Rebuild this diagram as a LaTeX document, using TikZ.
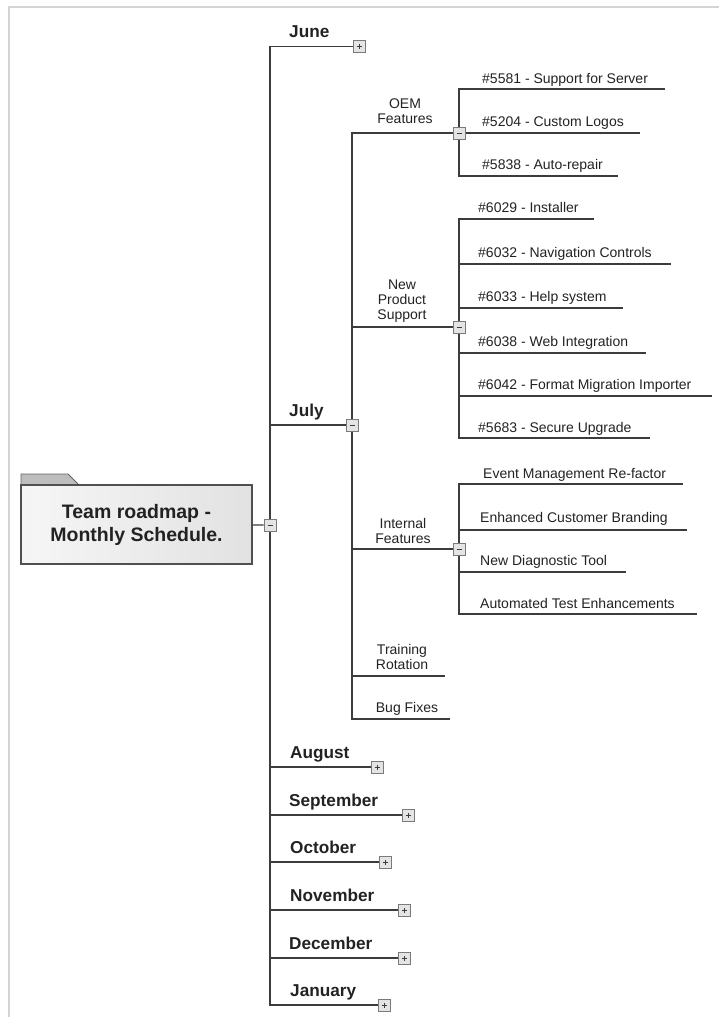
\documentclass[tikz,border=0pt]{standalone}
\usepackage{fontspec}
\setmainfont{Liberation Sans}
\definecolor{linec}{HTML}{3C3C3C}
\definecolor{txtc}{HTML}{222222}
\definecolor{btnfill}{HTML}{E4E4E4}
\definecolor{btnc}{HTML}{7A7A7A}
\definecolor{framec}{HTML}{D4D4D4}
\definecolor{tabc}{HTML}{BDBDBD}
\definecolor{boxl}{HTML}{F6F6F6}
\definecolor{boxr}{HTML}{E2E2E2}
\begin{document}
\begin{tikzpicture}[x=1pt,y=-1pt,
  conn/.style={draw=linec, line width=1.3pt},
  btn/.style={draw=btnc, fill=btnfill, minimum size=12pt, inner sep=0pt, line width=0.9pt},
  plusbtn/.style={btn, path picture={
      \draw[linec, line width=0.8pt] ([xshift=-2.5pt]path picture bounding box.center) -- ([xshift=2.5pt]path picture bounding box.center);
      \draw[linec, line width=0.8pt] ([yshift=-2.5pt]path picture bounding box.center) -- ([yshift=2.5pt]path picture bounding box.center);}},
  minusbtn/.style={btn, path picture={
      \draw[linec, line width=0.8pt] ([xshift=-2.5pt]path picture bounding box.center) -- ([xshift=2.5pt]path picture bounding box.center);}},
  itemtxt/.style={font=\fontsize{14}{15}\selectfont, text=txtc, anchor=base west, inner sep=0pt},
  subtxt/.style={font=\fontsize{14}{15}\selectfont, text=txtc, align=center, anchor=center, inner sep=0pt},
  monthtxt/.style={font=\bfseries\fontsize{17.2}{19}\selectfont, text=txtc, anchor=base west, inner sep=0pt},
  rootbox/.style={draw=linec!90, line width=1.3pt, left color=boxl, right color=boxr,
      minimum width=231pt, minimum height=79pt, align=center, inner sep=0pt,
      font=\bfseries\fontsize{19.5}{23}\selectfont, text=txtc}
]
\useasboundingbox (0,0) rectangle (719,1017);
% frame
\draw[framec, line width=1.2pt] (9,1017) -- (9,7) -- (719,7);

% root
\fill[tabc] (21,485) -- (21,474) -- (68,474) -- (79,485) -- cycle;
\draw[linec!80, line width=0.8pt] (21,485) -- (21,474) -- (68,474) -- (79,485);
\node[rootbox] (root) at (136.5,524.5) {Team roadmap -\\Monthly Schedule.};

% buttons (positions)
\node[minusbtn] (bRoot) at (270,525) {};
\node[plusbtn] (bJune) at (359.5,46.5) {};
\node[minusbtn] (bJuly) at (352,425) {};
\node[plusbtn] (bAug) at (377,767) {};
\node[plusbtn] (bSep) at (408,815) {};
\node[plusbtn] (bOct) at (385,862) {};
\node[plusbtn] (bNov) at (404,910) {};
\node[plusbtn] (bDec) at (404,958) {};
\node[plusbtn] (bJan) at (384,1005) {};
\node[minusbtn] (bOEM) at (459,133) {};
\node[minusbtn] (bNPS) at (459,327) {};
\node[minusbtn] (bIF) at (459,549) {};
\coordinate (eTR) at (445,676);
\coordinate (eBF) at (450,719);

% item end coordinates
\coordinate (e5581) at (665,89);
\coordinate (e5204) at (640,133);
\coordinate (e5838) at (618,176);
\coordinate (e6029) at (594,219);
\coordinate (e6032) at (671,264);
\coordinate (e6033) at (623,308);
\coordinate (e6038) at (646,353);
\coordinate (e6042) at (712,396);
\coordinate (e5683) at (650,438);
\coordinate (eEMR) at (683,484);
\coordinate (eECB) at (687,530);
\coordinate (eNDT) at (626,572);
\coordinate (eATE) at (697,614);

% connectors
\draw[conn] (root) -- (bRoot);
\foreach \m in {bJune,bJuly,bAug,bSep,bOct,bNov,bDec,bJan}
  \draw[conn] (bRoot) |- (\m);
\foreach \s in {bOEM,bNPS,bIF,eTR,eBF}
  \draw[conn] (bJuly) |- (\s);
\draw[conn] (bOEM) |- (e5581);
\draw[conn] (bOEM) -- (e5204);
\draw[conn] (bOEM) |- (e5838);
\foreach \s in {e6029,e6032,e6033,e6038,e6042,e5683}
  \draw[conn] (bNPS) |- (\s);
\foreach \s in {eEMR,eECB,eNDT,eATE}
  \draw[conn] (bIF) |- (\s);

% redraw buttons on top
\foreach \b/\p in {bRoot/minusbtn,bJuly/minusbtn,bOEM/minusbtn,bNPS/minusbtn,bIF/minusbtn}
  \node[\p] at (\b) {};
\foreach \b in {bJune,bAug,bSep,bOct,bNov,bDec,bJan}
  \node[plusbtn] at (\b) {};

% month labels
\node[monthtxt] (tJune) at (289,37.5) {June};
\node[monthtxt] (tJuly) at (289,416) {July};
\node[monthtxt] (tAug) at (290,758) {August};
\node[monthtxt] (tSep) at (289,806) {September};
\node[monthtxt] (tOct) at (290,853) {October};
\node[monthtxt] (tNov) at (290,901) {November};
\node[monthtxt] (tDec) at (289,949) {December};
\node[monthtxt] (tJan) at (290,996) {January};

% sub labels
\node[subtxt] (tOEM) at (405,111) {OEM\\Features};
\node[subtxt] (tNPS) at (402,301) {New\\Product\\Support};
\node[subtxt] (tIF) at (403,530.5) {Internal\\Features};
\node[subtxt] (tTR) at (402,656.5) {Training\\Rotation};
\node[subtxt] (tBF) at (407,709) {Bug Fixes};

% item labels
\node[itemtxt] at (482,83) {\#5581 - Support for Server};
\node[itemtxt] at (482,126) {\#5204 - Custom Logos};
\node[itemtxt] at (482,169) {\#5838 - Auto-repair};
\node[itemtxt] at (478,212) {\#6029 - Installer};
\node[itemtxt] at (478,257) {\#6032 - Navigation Controls};
\node[itemtxt] at (478,301) {\#6033 - Help system};
\node[itemtxt] at (478,346) {\#6038 - Web Integration};
\node[itemtxt] at (478,389) {\#6042 - Format Migration Importer};
\node[itemtxt] at (478,432) {\#5683 - Secure Upgrade};
\node[itemtxt] at (483,478) {Event Management Re-factor};
\node[itemtxt] at (480,522) {Enhanced Customer Branding};
\node[itemtxt] at (480,565) {New Diagnostic Tool};
\node[itemtxt] at (480,608) {Automated Test Enhancements};
\end{tikzpicture}
\end{document}
